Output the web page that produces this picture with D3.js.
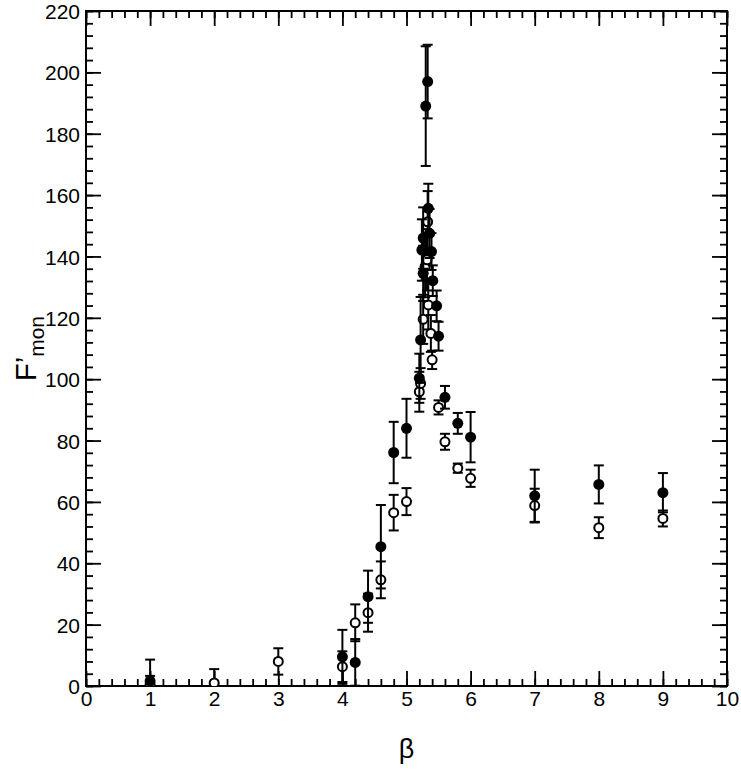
<!doctype html>
<html>
<head>
  <meta charset="utf-8">
  <script src="https://d3js.org/d3.v7.min.js"></script>
  <style>
    body { margin: 0; background: #fff; }
    text { font-family: "Liberation Sans", Arial, sans-serif; fill: #000; }
  </style>
</head>
<body>
  <script>
    // filled circles: beta, F'mon, error
    var filledBeta = [1.0, 4.0, 4.2, 4.4, 4.6, 4.8, 5.0, 5.2, 5.22, 5.24, 5.26, 5.26, 5.30, 5.33, 5.34, 5.36, 5.39, 5.41, 5.47, 5.5, 5.6, 5.8, 6.0, 7.0, 8.0, 9.0];
    var filledF    = [1.6, 9.5, 7.7, 29.1, 45.4, 76.1, 84.0, 100.3, 112.8, 142.1, 134.5, 146.0, 189.0, 197.0, 155.7, 147.5, 141.6, 132.1, 123.9, 114.0, 94.1, 85.6, 81.1, 62.0, 65.7, 63.0];
    var filledErr  = [7.0, 8.8, 7.6, 8.5, 13.6, 10.0, 9.6, 8.0, 14.0, 10.0, 9.0, 10.0, 19.5, 12.0, 8.0, 8.0, 6.0, 5.0, 5.0, 4.7, 3.7, 3.4, 8.2, 8.5, 6.2, 6.4];

    // open circles: beta, F'mon, error
    var openBeta = [1.0, 2.0, 3.0, 4.0, 4.2, 4.4, 4.6, 4.8, 5.0, 5.2, 5.22, 5.26, 5.29, 5.32, 5.33, 5.34, 5.38, 5.4, 5.5, 5.6, 5.8, 6.0, 7.0, 8.0, 9.0];
    var openF    = [0.5, 1.0, 8.0, 6.3, 20.6, 23.9, 34.6, 56.5, 60.1, 95.9, 98.6, 119.5, 136.7, 138.9, 151.3, 124.2, 114.9, 106.3, 90.8, 79.6, 71.0, 67.7, 58.8, 51.6, 54.6];
    var openErr  = [2.8, 4.5, 4.3, 5.0, 6.0, 6.2, 6.0, 5.8, 4.4, 6.5, 5.0, 8.0, 10.0, 10.0, 10.0, 8.0, 6.0, 3.0, 2.3, 2.6, 1.5, 2.8, 5.5, 3.4, 2.6];

    // tick labels
    var xTicks = [0, 1, 2, 3, 4, 5, 6, 7, 8, 9, 10];
    var yTicks = [0, 20, 40, 60, 80, 100, 120, 140, 160, 180, 200, 220];

    var W = 741, H = 770;
    var margin = { left: 86, top: 11, right: 14, bottom: 84 };
    var width = W - margin.left - margin.right;
    var height = H - margin.top - margin.bottom;

    var x = d3.scaleLinear().domain([0, 10]).range([0, width]);
    var y = d3.scaleLinear().domain([0, 220]).range([height, 0]);

    var svg = d3.select("body").append("svg")
      .attr("width", W)
      .attr("height", H);

    var g = svg.append("g")
      .attr("transform", "translate(" + margin.left + "," + margin.top + ")");

    g.append("clipPath").attr("id", "plotclip")
      .append("rect").attr("width", width).attr("height", height);

    // minor + major ticks, all four sides, pointing inward
    var xMinor = d3.range(0, 10.001, 0.2);
    var yMinor = d3.range(0, 220.001, 4);

    function tickAxis(axisFn, scale, vals, len, fmt) {
      return axisFn(scale).tickValues(vals).tickSize(-len).tickSizeOuter(0).tickFormat(fmt);
    }

    var axes = [
      [d3.axisBottom, x, "translate(0," + height + ")"],
      [d3.axisTop, x, "translate(0,0)"],
      [d3.axisLeft, y, "translate(0,0)"],
      [d3.axisRight, y, "translate(" + width + ",0)"]
    ];
    axes.forEach(function (a, i) {
      var isX = i < 2;
      var minor = g.append("g").attr("transform", a[2])
        .call(tickAxis(a[0], a[1], isX ? xMinor : yMinor, 7, ""));
      var major = g.append("g").attr("transform", a[2])
        .call(tickAxis(a[0], a[1], isX ? xTicks : yTicks, 15, i === 0 || i === 2 ? d3.format("d") : ""));
      [minor, major].forEach(function (s) {
        s.select(".domain").remove();
        s.selectAll("line").attr("stroke", "#000").attr("stroke-width", 1.8);
      });
      major.selectAll("text")
        .style("font-size", "21px")
        .style("font-family", "Liberation Sans, Arial, sans-serif")
        .attr("fill", "#000");
      if (i === 0) major.selectAll("text").attr("y", 5).attr("dy", "0.71em");
      if (i === 2) major.selectAll("text").attr("x", -6).attr("dy", "0.36em");
    });

    // frame
    g.append("rect")
      .attr("width", width).attr("height", height)
      .attr("fill", "none").attr("stroke", "#000").attr("stroke-width", 2);

    var plot = g.append("g").attr("clip-path", "url(#plotclip)");

    function drawSeries(betas, vals, errs, filled) {
      var data = betas.map(function (b, i) { return { b: b, v: vals[i], e: errs[i] }; });
      var s = plot.append("g");
      var eb = s.selectAll("g.eb").data(data).enter().append("g").attr("class", "eb")
        .attr("stroke", "#000").attr("stroke-width", 2);
      eb.append("line")
        .attr("x1", function (d) { return x(d.b); }).attr("x2", function (d) { return x(d.b); })
        .attr("y1", function (d) { return y(d.v + d.e); }).attr("y2", function (d) { return y(d.v - d.e); });
      eb.append("line")
        .attr("x1", function (d) { return x(d.b) - 5; }).attr("x2", function (d) { return x(d.b) + 5; })
        .attr("y1", function (d) { return y(d.v + d.e); }).attr("y2", function (d) { return y(d.v + d.e); });
      eb.append("line")
        .attr("x1", function (d) { return x(d.b) - 5; }).attr("x2", function (d) { return x(d.b) + 5; })
        .attr("y1", function (d) { return y(d.v - d.e); }).attr("y2", function (d) { return y(d.v - d.e); });
      s.selectAll("circle").data(data).enter().append("circle")
        .attr("cx", function (d) { return x(d.b); })
        .attr("cy", function (d) { return y(d.v); })
        .attr("r", filled ? 5.5 : 4.5)
        .attr("fill", filled ? "#000" : "#fff")
        .attr("stroke", "#000")
        .attr("stroke-width", filled ? 0 : 2);
    }

    drawSeries(openBeta, openF, openErr, false);
    drawSeries(filledBeta, filledF, filledErr, true);

    // axis titles
    svg.append("text")
      .attr("x", margin.left + x(5)).attr("y", 758)
      .attr("text-anchor", "middle")
      .style("font-size", "27px")
      .text("β");

    var yt = svg.append("text")
      .attr("transform", "translate(36," + (margin.top + y(110)) + ") rotate(-90)")
      .attr("text-anchor", "middle")
      .style("font-size", "29px");
    yt.append("tspan").text("F’");
    yt.append("tspan").attr("dy", 8).style("font-size", "21px").text("mon");
  </script>
</body>
</html>
